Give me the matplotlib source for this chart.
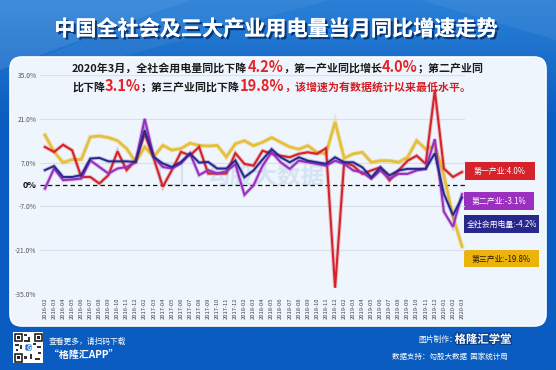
import numpy as np
import matplotlib
matplotlib.use("Agg")
import matplotlib.pyplot as plt
from matplotlib.patches import FancyBboxPatch, Rectangle, Polygon
import matplotlib.patheffects as pe

CJK = ["Noto Sans CJK SC", "DejaVu Sans"]
plt.rcParams["font.family"] = CJK

months = [
    "2016-02", "2016-03", "2016-04", "2016-05", "2016-06", "2016-07", "2016-08", "2016-09", "2016-10", "2016-11", "2016-12",
    "2017-02", "2017-03", "2017-04", "2017-05", "2017-06", "2017-07", "2017-08", "2017-09", "2017-10", "2017-11", "2017-12",
    "2018-02", "2018-03", "2018-04", "2018-05", "2018-06", "2018-07", "2018-08", "2018-09", "2018-10", "2018-11", "2018-12",
    "2019-02", "2019-03", "2019-04", "2019-05", "2019-06", "2019-07", "2019-08", "2019-09", "2019-10", "2019-11", "2019-12",
    "2020-01", "2020-02", "2020-03",
]

# 第一产业
primary = [12.0, 10.4, 12.7, 10.9, 2.4, 2.4, 0.3, 3.0, 10.6, 4.6, 7.7,
           16.2, 8.3, -0.7, 4.6, 10.4, 9.3, 12.0, 3.5, 3.5, 3.5, 10.0,
           6.6, 6.0, 10.8, 9.8, 9.2, 8.7, 9.8, 10.3, 9.8, 11.6, -33.0,
           7.1, 6.0, 3.4, 4.5, 5.5, 1.3, 4.5, 7.6, 9.2, 6.6, 30.0,
           5.1, 2.4, 4.0]
# 第二产业
secondary = [-1.3, 5.1, 1.4, 1.6, 1.9, 7.7, 5.6, 3.5, 5.1, 5.6, 7.2,
             21.0, 8.8, 5.6, 5.1, 6.7, 9.9, 3.0, 4.6, 3.5, 4.2, 6.5,
             -3.3, -0.3, 6.0, 10.3, 7.1, 5.0, 7.6, 7.1, 6.6, 6.0, 7.6,
             6.6, 4.5, 3.9, 1.8, 4.5, 1.8, 3.4, 3.4, 4.5, 5.0, 14.5,
             -8.7, -13.5, -3.1]
# 第三产业
tertiary = [15.8, 10.5, 7.0, 8.0, 8.0, 15.2, 15.5, 15.0, 14.0, 11.5, 7.2,
            12.0, 8.9, 12.5, 11.0, 11.5, 13.2, 12.5, 12.3, 12.5, 8.8, 13.0,
            14.0, 12.4, 13.5, 15.0, 13.5, 12.0, 11.3, 12.4, 10.3, 9.8, 20.0,
            8.4, 9.8, 10.3, 7.1, 7.6, 7.6, 7.1, 8.7, 14.0, 11.3, 12.4,
            3.0, -10.3, -19.8]
# 全社会用电量
total = [4.6, 5.9, 2.4, 2.4, 3.0, 8.3, 8.5, 7.4, 7.4, 7.4, 7.2,
         17.3, 8.8, 6.7, 5.6, 7.2, 9.9, 7.0, 7.2, 5.1, 5.1, 7.7,
         2.3, 4.5, 8.0, 11.3, 8.7, 7.1, 8.7, 7.6, 7.1, 6.6, 8.7,
         7.1, 7.1, 5.5, 2.3, 5.5, 2.9, 4.5, 5.0, 5.0, 5.0, 10.0,
         -3.0, -9.8, -4.2]

yticks = [-35, -21, -7, 0, 7, 21, 35]
ytick_labels = ["-35.0%", "-21.0%", "-7.0%", "0%", "7.0%", "21.0%", "35.0%"]

end_labels = ["第一产业:4.0%", "第二产业:-3.1%", "全社会用电量:-4.2%", "第三产业:-19.8%"]

C_RED = "#d6222a"
C_PUR = "#9a2fc0"
C_NAVY = "#28288c"
C_GOLD = "#e6c03c"

W, H = 556, 370
fig = plt.figure(figsize=(W / 100, H / 100), dpi=100)

# ---------- background ----------
bg = fig.add_axes([0, 0, 1, 1])
bg.set_xlim(0, W)
bg.set_ylim(H, 0)
bg.axis("off")
grad = np.linspace(0, 1, 200).reshape(-1, 1)
c_top = np.array([0x2a, 0x80, 0xd6]) / 255
c_bot = np.array([0x0a, 0x5c, 0xc0]) / 255
t = np.clip(grad * 3.0, 0, 1)
img = c_top * (1 - t)[..., None] + c_bot * t[..., None]
img = img.reshape(200, 1, 3)
bg.imshow(img, extent=(0, W, H, 0), aspect="auto", zorder=0)
bg.add_patch(Polygon([(0, 0), (190, 0), (0, 70)], closed=True, fc="white", alpha=0.10, ec="none", zorder=1))
bg.add_patch(Polygon([(190, 0), (330, 0), (120, 57), (40, 57)], closed=True, fc="white", alpha=0.05, ec="none", zorder=1))
bg.add_patch(Polygon([(420, 0), (556, 0), (556, 40)], closed=True, fc="white", alpha=0.06, ec="none", zorder=1))

# panel
bg.add_patch(FancyBboxPatch((10, 57), 536, 269, boxstyle="round,pad=0,rounding_size=12",
                            fc="#eef5fc", ec="#ffffff", lw=1.2, zorder=2))

# title
bg.text(W / 2 - 2, 29, "中国全社会及三大产业用电量当月同比增速走势", ha="center", va="center",
        fontsize=15.2, fontweight="bold", color="white", zorder=5,
        path_effects=[pe.withSimplePatchShadow(offset=(1.6, -1.6), shadow_rgbFace="#06306e", alpha=0.9),
                      pe.Normal()])

# rich annotation text
renderer = fig.canvas.get_renderer()


def rich_line(x, y, segs):
    for txt, color, size in segs:
        tt = bg.text(x, y, txt, color=color, fontsize=size, fontweight="bold",
                     ha="left", va="baseline", zorder=5)
        bb = tt.get_window_extent(renderer)
        x += bb.width


BLK = "#1a1a1a"
RED = "#e5232a"
rich_line(72, 72, [("2020年3月，全社会用电量同比下降", BLK, 7.9), ("4.2%", RED, 10.5),
                   ("，第一产业同比增长", BLK, 7.9), ("4.0%", RED, 10.5), ("；第二产业同", BLK, 7.9)])
rich_line(72, 91, [("比下降", BLK, 7.9), ("3.1%", RED, 10.5), ("；第三产业同比下降", BLK, 7.9),
                   ("19.8%", RED, 10.5), ("，该增速为有数据统计以来最低水平。", "#d41e24", 7.9)])

# watermark
bg.text(265, 177, "勾股大数据", ha="center", va="center", fontsize=17, color="#cddcef",
        alpha=0.7, zorder=3, fontweight="bold")
bg.add_patch(FancyBboxPatch((160, 163), 22, 22, boxstyle="round,pad=0,rounding_size=3",
                            fc="none", ec="#cddcef", lw=1.5, alpha=0.7, zorder=3))

# ---------- main chart ----------
x0, x1, ytop, ybot = 40, 465, 75, 294
ax = fig.add_axes([x0 / W, (H - ybot) / H, (x1 - x0) / W, (ybot - ytop) / H])
ax.set_facecolor("none")
for s in ax.spines.values():
    s.set_visible(False)
x = np.arange(len(months))
ax.set_xlim(-0.55, len(months) - 1 + 0.33)
ax.set_ylim(-35, 35)

for yv in yticks:
    if yv == 0:
        ax.axhline(0, color="#111111", lw=0.9, ls=(0, (3.5, 2.5)), zorder=2)
    else:
        ax.axhline(yv, color="#d6e1ee", lw=0.8, zorder=1)

series = [(tertiary, C_GOLD, 2.0), (primary, C_RED, 1.5), (secondary, C_PUR, 1.5), (total, C_NAVY, 1.4)]
for vals, col, lw in series:
    ax.plot(x, vals, color=col, lw=lw, zorder=4, solid_joinstyle="miter", clip_on=False,
            path_effects=[pe.Stroke(linewidth=lw + 1.4, foreground=col, alpha=0.25), pe.Normal()])

ax.set_yticks(yticks)
ax.set_yticklabels(ytick_labels)
for lab in ax.get_yticklabels():
    if lab.get_text() == "0%":
        lab.set_fontweight("bold")
        lab.set_fontsize(6.5)
        lab.set_color("#111111")
    else:
        lab.set_fontsize(4.8)
        lab.set_color("#555555")
ax.tick_params(axis="y", length=0, pad=2.5)
ax.set_xticks(x)
ax.set_xticklabels(months, rotation=90, fontsize=4.2, color="#444444")
ax.tick_params(axis="x", length=0, pad=2.5)

# end labels
boxes = [(465, 162, 70, 18, C_RED, "white"), (464, 192, 70, 18, C_PUR, "white"),
         (464, 215, 75, 18, C_NAVY, "white"), (464, 250, 75, 17, "#eab40c", "#2a1a00")]
for (bx, by, bw, bh, fc, tc), lab in zip(boxes, end_labels):
    bg.add_patch(Rectangle((bx, by), bw, bh, fc=fc, ec="none", zorder=6))
    bg.text(bx + bw / 2, by + bh / 2 + 0.5, lab, ha="center", va="center", fontsize=5.7,
            color=tc, zorder=7)

# ---------- footer ----------
bg.add_patch(Rectangle((13, 332), 30, 31, fc="white", ec="none", zorder=3))
for (qx, qy) in [(14.5, 333.5), (34.5, 333.5), (14.5, 354)]:
    bg.add_patch(Rectangle((qx, qy), 7.5, 7.5, fc="none", ec="#222222", lw=1.2, zorder=4))
    bg.add_patch(Rectangle((qx + 2.3, qy + 2.3), 3, 3, fc="#222222", ec="none", zorder=4))
for (qx, qy, qw, qh) in [(24, 334, 3, 2), (28, 337, 2, 3), (24, 340, 6, 1.5), (15, 344, 4, 2), (20, 345, 2, 4),
                         (33, 343, 3, 2), (37, 346, 4, 2), (24, 356, 3, 3), (30, 354, 2, 5), (35, 358, 5, 2),
                         (38, 352, 3, 2), (16, 349, 2, 2)]:
    bg.add_patch(Rectangle((qx, qy), qw, qh, fc="#333333", ec="none", zorder=4))
bg.add_patch(FancyBboxPatch((25, 344), 7, 7, boxstyle="round,pad=0,rounding_size=1.5",
                            fc="#1a6fd0", ec="white", lw=0.6, zorder=5))
bg.text(28.5, 347.8, "G", ha="center", va="center", fontsize=4.5, color="white", fontweight="bold", zorder=6)

bg.text(49, 342, "查看更多，请扫码下载", ha="left", va="center", fontsize=5.6, color="white",
        style="italic", zorder=5)
bg.text(49, 355, "“格隆汇APP”", ha="left", va="center", fontsize=7.2, color="white",
        fontweight="bold", style="italic", zorder=5)

bg.text(457, 340, "图片制作：", ha="right", va="center", fontsize=5.6, color="white", zorder=5)
bg.text(483, 339.5, "格隆汇学堂", ha="center", va="center", fontsize=8.2, color="white",
        fontweight="bold", zorder=5,
        path_effects=[pe.withStroke(linewidth=1.8, foreground="#0a3f8a")])
bg.text(508, 357, "数据支持：勾股大数据  国家统计局", ha="right", va="center", fontsize=5.4,
        color="white", zorder=5)

fig.savefig("out.png", dpi=100)
